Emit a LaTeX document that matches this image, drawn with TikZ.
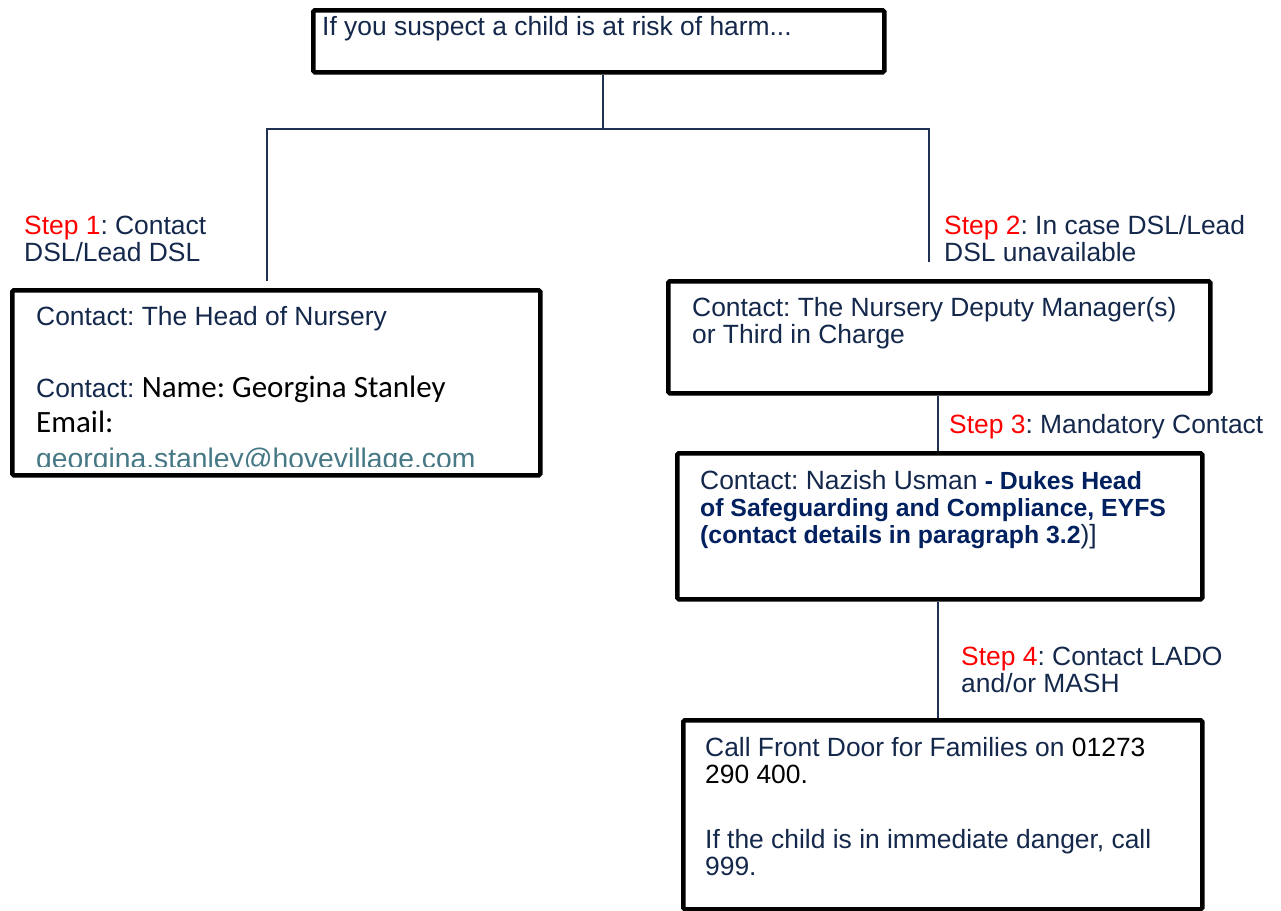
\documentclass[tikz,border=0pt]{standalone}
\usepackage{fontspec}
\setmainfont{Liberation Sans}
\newfontfamily\calfont{Carlito}
\definecolor{navy}{HTML}{14284B}
\definecolor{boldnavy}{HTML}{002060}
\definecolor{linkteal}{HTML}{467886}
\definecolor{stepred}{HTML}{FF0000}
\definecolor{linenavy}{HTML}{1F3050}
\newcommand{\stp}[1]{\textcolor{stepred}{Step #1}}
\newcommand{\bn}[1]{\textcolor{boldnavy}{\fontsize{24.8}{27}\selectfont\bfseries #1}}
\tikzset{
  box/.style={draw=black, line width=4.5pt, rounded corners=1.5pt, inner sep=0pt, anchor=north west, fill=white},
  txt/.style={anchor=north west, inner sep=0pt, align=left, text=navy, font=\frenchspacing\fontsize{26.4}{27}\selectfont},
  caltxt/.style={anchor=north west, inner sep=0pt, align=left, text=black, font=\calfont\fontsize{31}{36}\selectfont},
  conn/.style={draw=linenavy, line width=2.8pt}
}
\begin{document}
\begin{tikzpicture}[x=1pt,y=-1pt]
\useasboundingbox (0,0) rectangle (1281,910);
% boxes
\node[box, minimum width=571pt, minimum height=62pt] (top) at (311,8) {};
\node[box, minimum width=528pt, minimum height=185pt] (lbox) at (10,288) {};
\node[box, minimum width=542pt, minimum height=112pt] (rbox1) at (666,279) {};
\node[box, minimum width=525pt, minimum height=146pt] (rbox2) at (675,451) {};
\node[box, minimum width=519pt, minimum height=189pt] (rbox3) at (681,718) {};
% connector coordinates
\coordinate (jn) at (603,129);
\coordinate (lend) at (267,281);
\coordinate (rend) at (929,262);
\draw[conn] (top.south -| jn) -- (jn);
\draw[conn] (jn) -| (lend);
\draw[conn] (jn) -| (rend);
\draw[conn] (rbox1.south -| 938,0) -- (rbox2.north -| 938,0);
\draw[conn] (rbox2.south -| 938,0) -- (rbox3.north -| 938,0);
% texts
\node[txt] (ttop) at (322,16) {If you suspect a child is at risk of harm...};
\node[txt] (s1) at (24,216) {\stp{1}: Contact\\DSL/Lead DSL};
\node[txt] (s2) at (944,215) {\stp{2}: In case DSL/Lead\\DSL unavailable};
\node[txt] (s3) at (949,414) {\stp{3}: Mandatory Contact};
\node[txt] (s4) at (961,647) {\stp{4}: Contact LADO\\and/or MASH};
\node[txt] (l1) at (36,306) {Contact: The Head of Nursery};
\node[txt] (l2) at (36,376) {Contact: {\calfont\fontsize{31}{36}\selectfont\color{black}Name: Georgina Stanley}};
\node[caltxt] (l3) at (36,411) {Email:};
\begin{scope}
\clip (12,290) rectangle (536,466);
\node[txt, text=linkteal, font=\fontsize{28.3}{30}\selectfont] (l4) at (36,448) {georgina.stanley@hovevillage.com};
\end{scope}
\node[txt] (r1) at (692,297) {Contact: The Nursery Deputy Manager(s)\\or Third in Charge};
\node[txt] (r2) at (700,470) {Contact: Nazish Usman \bn{- Dukes Head}\\\bn{of Safeguarding and Compliance, EYFS}\\\bn{(contact details in paragraph 3.2})]};
\node[txt] (r3a) at (705,737) {Call Front Door for Families on \textcolor{black}{01273}\\\textcolor{black}{290 400.}};
\node[txt] (r3b) at (705,829) {If the child is in immediate danger, call\\999.};
\end{tikzpicture}
\end{document}
